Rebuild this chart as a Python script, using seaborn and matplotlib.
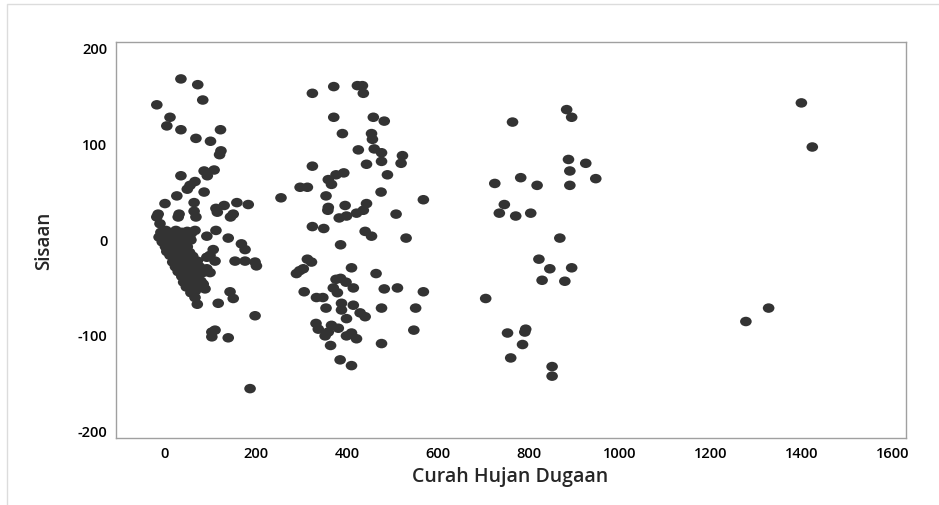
import pandas as pd
import matplotlib
matplotlib.use("Agg")
import matplotlib.pyplot as plt
import seaborn as sns
from matplotlib.path import Path
from matplotlib.transforms import Affine2D
from matplotlib.patches import Rectangle

# Fitted values (Curah Hujan Dugaan) and residuals (Sisaan)
# left group, scattered points
fit_left = [35, 72, 83, -18, 11, 4, 35, 68, 100, 122, 120, 123, 35, 86, 108, 93, 55, 66, 49,
            26, 86, 0, 64, 64, 68, 31, 29, -15, -18, -11, 112, 130, 115, 158, 183, 150, 144,
            255, 92, 112, 139, 168, 176, 154, 176, 198, 201, 106, 99, 110, 71, 99, 143, 150,
            117, 198, 103, 110, 103, 139, 187, 66, 71, 92, 92, 84, 88, 66]
res_left = [167, 161, 145, 140, 127, 118, 114, 105, 102, 114, 88, 92, 66, 71, 72, 66, 56, 60, 52,
            45, 49, 37, 38, 29, 23, 26, 23, 26, 23, 16, 32, 35, 28, 38, 36, 26, 23,
            43, 3, 9, 1, -5, -11, -23, -23, -24, -28, -11, -17, -23, -23, -35, -55, -62,
            -67, -80, -97, -95, -102, -103, -156, -61, -68, -31, -19, -47, -52, 9]

# left group, dense band just under zero
fit_dense = [-9, 2, 13, 24, 37, 49, 58,
             -13, -3, 9, 19, 31, 43, 54,
             -6, 6, 16, 27, 46, 57,
             1, 11, 21, 36, 49,
             4, 16, 26, 41, 54,
             11, 21, 31, 44, 61,
             17, 29, 39, 51, 65,
             23, 33, 46, 59, 76,
             29, 41, 56, 69, 83,
             37, 47, 61, 73,
             41, 53, 63, 79,
             47, 59, 69,
             57, 67]
res_dense = [7, 9, 6, 9, 7, 8, 6,
             2, 4, 1, 4, 2, 4, 1,
             -3, -1, -4, -2, -3, -1,
             -8, -6, -9, -7, -8,
             -13, -11, -14, -12, -14,
             -17, -19, -16, -20, -18,
             -24, -22, -25, -23, -24,
             -29, -27, -30, -28, -29,
             -34, -32, -35, -33, -35,
             -39, -37, -40, -38,
             -45, -43, -46, -44,
             -50, -48, -51,
             -56, -54]

# middle group
fit_mid = [324, 371, 423, 434, 436, 371, 458, 482, 390, 454, 456, 425, 460, 476, 522, 519,
           324, 443, 476, 489, 393, 376, 359, 366, 297, 313, 354, 475, 568, 359, 358, 396,
           443, 436, 421, 399, 383, 508, 324, 349, 440, 454, 530, 386, 313, 322, 304, 289,
           296, 410, 464, 376, 386, 398, 370, 379, 414, 306, 333, 347, 482, 511, 568, 354,
           388, 388, 414, 429, 440, 399, 476, 551, 547, 332, 337, 366, 381, 359, 352, 399,
           410, 421, 364, 476, 385, 410]
res_mid = [152, 159, 160, 160, 152, 127, 127, 123, 110, 110, 104, 93, 94, 90, 87, 79,
           76, 78, 81, 67, 69, 67, 62, 57, 54, 54, 45, 49, 41, 33, 30, 35,
           37, 30, 27, 24, 22, 26, 13, 11, 8, 3, 1, -6, -21, -24, -31, -36,
           -33, -30, -36, -42, -41, -45, -51, -56, -51, -55, -61, -61, -52, -51, -55, -72,
           -67, -74, -69, -77, -81, -83, -72, -72, -95, -88, -94, -90, -93, -97, -101, -101,
           -98, -104, -111, -109, -126, -132]

# right group
fit_right = [883, 894, 764, 887, 925, 890, 947, 890, 725, 782, 818, 746, 735, 771, 804, 868,
             822, 846, 894, 829, 879, 705, 753, 793, 791, 786, 760, 851, 851]
res_right = [135, 127, 122, 83, 79, 71, 63, 56, 58, 64, 56, 36, 27, 24, 27, 1,
             -21, -31, -30, -43, -44, -62, -98, -94, -97, -110, -124, -133, -143]

# far right
fit_far = [1399, 1423, 1327, 1277]
res_far = [142, 96, -72, -86]

x_ticks = [0, 200, 400, 600, 800, 1000, 1200, 1400, 1600]
y_ticks = [-200, -100, 0, 100, 200]

df = pd.DataFrame({
    "fit": fit_left + fit_dense + fit_mid + fit_right + fit_far,
    "resid": res_left + res_dense + res_mid + res_right + res_far,
})

sns.set_style("white")
plt.rcParams["font.family"] = ["Open Sans", "DejaVu Sans"]
plt.rcParams["axes.unicode_minus"] = False

fig = plt.figure(figsize=(9.39, 5.06), dpi=100)
ax = fig.add_axes([115.6 / 939, 1 - 439 / 506, (906 - 115.6) / 939, (439 - 43.3) / 506])

# slightly wide dots, like the original
dot = Path.unit_circle().transformed(Affine2D().scale(1.22, 1.0))
sns.scatterplot(data=df, x="fit", y="resid", marker=dot, s=70, color="#333333",
                edgecolor="none", linewidth=0, ax=ax, legend=False)

ax.set_xlim(-108.6, 1629)
ax.set_ylim(-207.5, 205.2)
ax.set_xticks(x_ticks)
ax.set_yticks(y_ticks)
ax.tick_params(direction="out", length=4, width=0.8, color="#a0a0a0",
               labelsize=10.5, labelcolor="black", pad=2)
for lab in ax.get_xticklabels() + ax.get_yticklabels():
    lab.set_fontweight("semibold")
for sp in ax.spines.values():
    sp.set_visible(True)
    sp.set_color("#a0a0a0")
    sp.set_linewidth(1.0)

ax.set_xlabel("Curah Hujan Dugaan", fontsize=14, fontweight="semibold")
ax.set_ylabel("Sisaan", fontsize=13.5, fontweight="semibold")
ax.xaxis.set_label_coords(0.4996, -0.072)
ax.yaxis.set_label_coords(-0.078, 0.5)

# light frame around the graph window (top and left only visible)
fig.add_artist(Rectangle((7 / 939, -0.1), 1.2, 1.1 - 5 / 506, transform=fig.transFigure,
                         fill=False, edgecolor="#dcdcdc", linewidth=1.0, clip_on=False))

fig.savefig("out.png", dpi=100, facecolor="white")
